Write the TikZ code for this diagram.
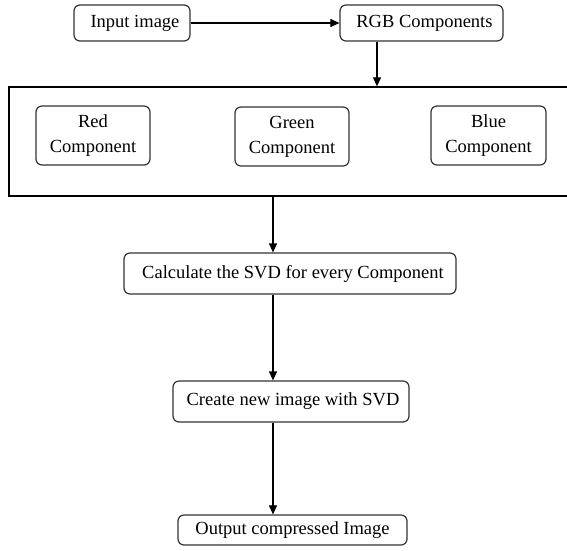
\documentclass[tikz,border=0pt]{standalone}
\usepackage{fontspec}
\setmainfont{Liberation Serif}
\usetikzlibrary{arrows.meta,calc}
\begin{document}
\begin{tikzpicture}[x=1pt,y=-1pt,
  box/.style={draw=black!80,line width=1.2pt,rounded corners=6pt,inner sep=0pt,
    font=\fontsize{18.5}{25}\selectfont,align=center},
  frame/.style={draw=black,line width=1.3pt,inner sep=0pt},
  arr/.style={draw=black,line width=1.1pt,-{Triangle[length=9pt,width=8pt]}}]
\clip (0,0) rectangle (567,550);
\useasboundingbox (0,0) rectangle (567,550);
\fill[white] (0,0) rectangle (567,550);
\node[box,minimum width=116pt,minimum height=36pt] (inp) at (132,23) {\hspace*{6pt}Input image};
\node[box,minimum width=163pt,minimum height=36pt] (rgb) at (421.5,23) {\hspace*{6pt}RGB Components};
\node[frame,minimum width=571pt,minimum height=109pt] (big) at (294.5,141.5) {};
\node[box,minimum width=114pt,minimum height=59pt] (red) at (93,135.5) {Red\\Component};
\node[box,minimum width=114pt,minimum height=59pt] (green) at (292,136.5) {Green\\Component};
\node[box,minimum width=115pt,minimum height=59pt] (blue) at (488.5,135.5) {Blue\\Component};
\node[box,minimum width=332pt,minimum height=41pt] (calc) at (290,273.5) {\hspace*{6pt}Calculate the SVD for every Component};
\node[box,minimum width=236pt,minimum height=41pt] (create) at (291,401.5) {\hspace*{4pt}Create new image with SVD};
\node[box,minimum width=229pt,minimum height=30pt] (out) at (292.5,530) {Output compressed Image};
\coordinate (bx) at (273,0);
\coordinate (tx) at (377,0);
\draw[arr] (inp.east) -- (rgb.west);
\draw[arr] (tx |- rgb.south) -- (tx |- big.north);
\draw[arr] (bx |- big.south) -- (bx |- calc.north);
\draw[arr] (bx |- calc.south) -- (bx |- create.north);
\draw[arr] (bx |- create.south) -- (bx |- out.north);
\end{tikzpicture}
\end{document}
